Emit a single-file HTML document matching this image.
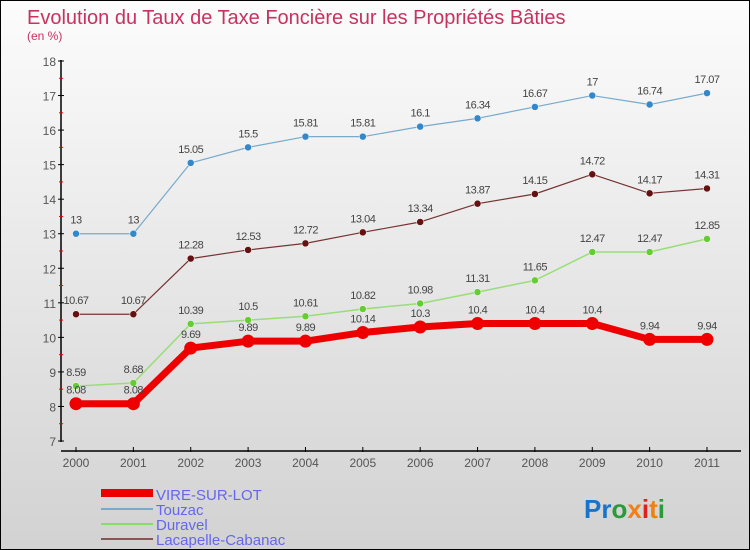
<!DOCTYPE html>
<html><head><meta charset="utf-8"><style>
body{margin:0}
#c{width:748px;height:548px;border:1px solid #000;background:linear-gradient(#fcfcfc,#d2d2d2);position:relative;overflow:hidden;font-family:"Liberation Sans",sans-serif}
</style></head><body>
<div id="c">
<svg id="s" width="748" height="548" xmlns="http://www.w3.org/2000/svg" style="position:absolute;left:0;top:0">
<text x="26" y="23" font-size="20" fill="#c8325f">Evolution du Taux de Taxe Foncière sur les Propriétés Bâties</text>
<text x="26" y="39" font-size="12" fill="#c8325f">(en %)</text>
<g id="axes"></g><g id="series"></g>
<g>
<rect x="100" y="488" width="52" height="8" fill="#e00"/>
<text x="155" y="499" font-size="15" fill="#6666ee">VIRE-SUR-LOT</text>
<rect x="100" y="507" width="52" height="2" fill="#77aacc"/>
<text x="155" y="514" font-size="15" fill="#6666ee">Touzac</text>
<rect x="100" y="522" width="52" height="2" fill="#88dd66"/>
<text x="155" y="529" font-size="15" fill="#6666ee">Duravel</text>
<rect x="100" y="537" width="52" height="2" fill="#885555"/>
<text x="155" y="544" font-size="15" fill="#6666ee">Lacapelle-Cabanac</text>
</g>
<text x="583" y="517" font-size="26" font-weight="bold"><tspan fill="#1a73c8">Pr</tspan><tspan fill="#2a9a3a">o</tspan><tspan fill="#f08010">x</tspan><tspan fill="#e02020">i</tspan><tspan fill="#f08010">t</tspan><tspan fill="#2a9a3a">i</tspan></text>
</svg>
</div>
<script>
const years=[2000,2001,2002,2003,2004,2005,2006,2007,2008,2009,2010,2011];
const yTicks=[7,8,9,10,11,12,13,14,15,16,17,18];
const vire=[8.08,8.08,9.69,9.89,9.89,10.14,10.3,10.4,10.4,10.4,9.94,9.94];
const touzac=[13,13,15.05,15.5,15.81,15.81,16.1,16.34,16.67,17,16.74,17.07];
const duravel=[8.59,8.68,10.39,10.5,10.61,10.82,10.98,11.31,11.65,12.47,12.47,12.85];
const lacapelle=[10.67,10.67,12.28,12.53,12.72,13.04,13.34,13.87,14.15,14.72,14.17,14.31];
const NS="http://www.w3.org/2000/svg";
const X=i=>75+i*(706-75)/(years.length-1);
const Y=v=>440-(v-7)*(380/11);
function mk(t,a,p){const e=document.createElementNS(NS,t);for(const k in a)e.setAttribute(k,a[k]);p.appendChild(e);return e;}
const ax=document.getElementById('axes');
let l=mk('line',{x1:60,y1:59,x2:60,y2:441,stroke:'#000','stroke-width':1.5},ax);


l=mk('line',{x1:60,y1:450,x2:740,y2:450,stroke:'#000','stroke-width':1.5},ax);


yTicks.forEach(v=>{mk('line',{x1:57,x2:63,y1:Y(v),y2:Y(v),stroke:'#000'},ax);
if(v<18)mk('line',{x1:58,x2:62,y1:Y(v+0.5),y2:Y(v+0.5),stroke:'#e00'},ax);
const t=mk('text',{x:55,y:Y(v)+5,'font-size':12,fill:'#555','text-anchor':'end'},ax);t.textContent=v;

});
years.forEach((y,i)=>{mk('line',{x1:X(i),x2:X(i),y1:446,y2:451,stroke:'#000'},ax);
const t=mk('text',{x:X(i),y:466,'font-size':12,fill:'#555','text-anchor':'middle'},ax);t.textContent=y;

});
const sg=document.getElementById('series');
function draw(name,data,col,dot,w,r){
const g=mk('g',{},sg);


const p=mk('polyline',{points:data.map((v,i)=>X(i)+','+Y(v)).join(' '),fill:'none',stroke:col,'stroke-width':w,'stroke-linejoin':'round'},g);


data.forEach((v,i)=>{const c=mk('circle',{cx:X(i),cy:Y(v),r:r,fill:dot,stroke:w>3?'none':'#fff','stroke-width':0.5},g);


const t=mk('text',{x:X(i),y:Y(v)-10,'font-size':11,fill:'#444','text-anchor':'middle','letter-spacing':'-0.5'},g);t.textContent=v;

});}
draw('touzac',touzac,'#77aacc','#3388cc',1.2,3.5);
draw('lacapelle',lacapelle,'#773333','#661111',1.2,3.5);
draw('duravel',duravel,'#99dd77','#66cc33',1.5,3.5);
draw('vire',vire,'#ee0000','#ee0000',7,6.5);
</script>
</body></html>
